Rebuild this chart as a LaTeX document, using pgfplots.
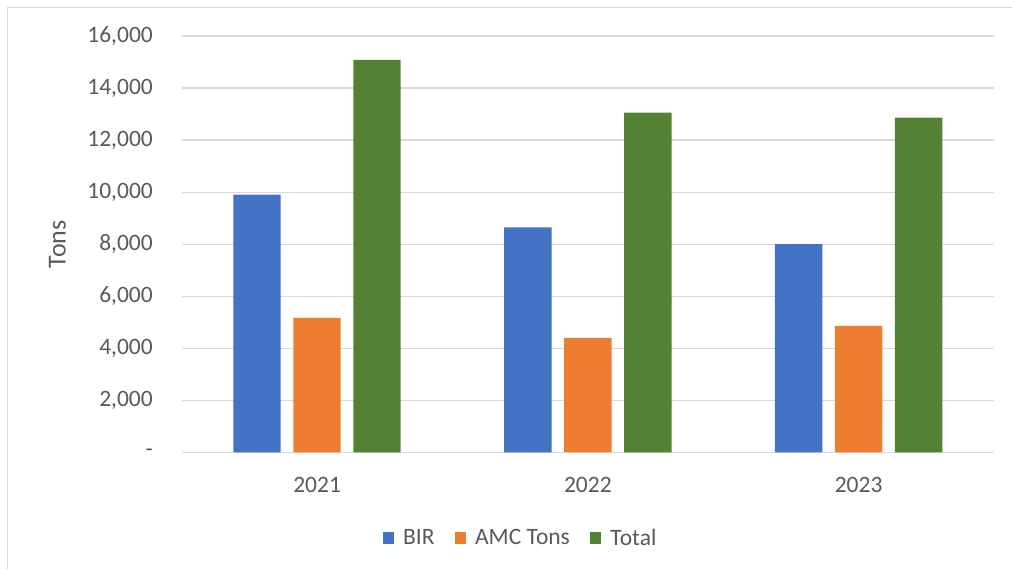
\documentclass[border=0pt]{standalone}
\usepackage{pgfplots}
\pgfplotsset{compat=1.18}
\usepackage{fontspec}
\setmainfont{Carlito}
\definecolor{cBIR}{HTML}{4472C4}
\definecolor{cAMC}{HTML}{ED7D31}
\definecolor{cTot}{HTML}{548235}
\definecolor{txt}{HTML}{595959}
\definecolor{grd}{HTML}{D9D9D9}
\begin{document}
\begin{tikzpicture}[x=1pt,y=1pt]
\useasboundingbox (0,0) rectangle (1012,569);
\draw[grd, line width=1.2pt] (7.5,0) -- (7.5,561.7) -- (1012,561.7);
\begin{axis}[
  at={(181.7pt,116.7pt)}, anchor=south west,
  scale only axis, width=812.3pt, height=416.3pt,
  ybar=12.7pt, bar width=47.3pt,
  xmin=-0.5, xmax=2.5, ymin=0, ymax=16000,
  xtick={0,1,2}, xticklabels={2021,2022,2023},
  ytick={0,2000,...,16000},
  scaled y ticks=false,
  yticklabels={{-},{2,000},{4,000},{6,000},{8,000},{10,000},{12,000},{14,000},{16,000}},
  major tick length=0pt,
  axis line style={draw=none},
  ymajorgrids, grid style={grd, line width=1.2pt},
  tick label style={font=\fontsize{23.5}{28}\selectfont, text=txt, inner sep=0pt},
  yticklabel style={anchor=east, xshift=-28.7pt},
  xticklabel style={anchor=center, yshift=-33pt},
  ylabel={Tons},
  ylabel style={font=\fontsize{26}{30}\selectfont, text=txt, at={(axis description cs:-0.1529,0.5)}, anchor=center, rotate=0},
  legend columns=3,
  legend style={draw=none, fill=none, at={(axis description cs:0.4159,-0.2059)}, anchor=center,
    font=\fontsize{23.5}{28}\selectfont, text=txt,
    nodes={inner sep=0pt},
    /tikz/every odd column/.append style={column sep=9pt},
    /tikz/every even column/.append style={column sep=20pt}},
  legend image code/.code={\fill[#1] (0pt,-5.75pt) rectangle (11.5pt,5.75pt);},
]
\addplot[fill=cBIR, draw=none] coordinates {(0,9900) (1,8640) (2,8000)};
\addplot[fill=cAMC, draw=none] coordinates {(0,5170) (1,4400) (2,4855)};
\addplot[fill=cTot, draw=none] coordinates {(0,15080) (1,13050) (2,12860)};
\legend{BIR, AMC Tons, Total}
\end{axis}
\end{tikzpicture}
\end{document}
